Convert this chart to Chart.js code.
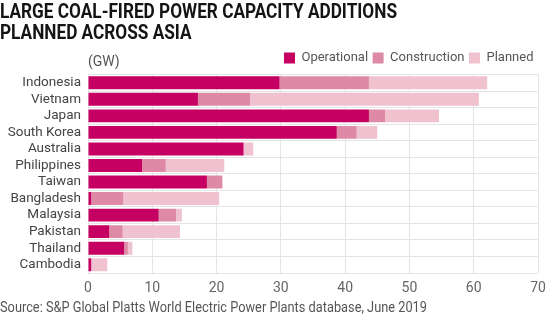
<!DOCTYPE html>
<html>
<head>
<meta charset="utf-8">
<script src="https://cdn.jsdelivr.net/npm/chart.js@4"></script>
<style>
  html, body { margin: 0; padding: 0; background: #fff; }
  #wrap { position: relative; width: 560px; height: 324px; overflow: hidden; font-family: Roboto, sans-serif; }
  #chart { position: absolute; left: 0; top: 0; }
  .title { position: absolute; left: 0; font-weight: 700; font-size: 20px; color: #141414; white-space: nowrap; transform-origin: 0 0; line-height: 1; }
  .note { position: absolute; white-space: nowrap; transform-origin: 0 0; line-height: 1; color: #555; }
</style>
</head>
<body>
<div id="wrap">
  <canvas id="chart" width="560" height="324"></canvas>
  <div class="title" id="t1" style="top:1px">LARGE COAL-FIRED POWER CAPACITY ADDITIONS</div>
  <div class="title" id="t2" style="top:22px">PLANNED ACROSS ASIA</div>
  <div class="note" id="unit" style="left:88px; top:54px; font-size:14px;">(GW)</div>
  <div class="note" id="src" style="left:0; top:300px; font-size:14px;">Source: S&amp;P Global Platts World Electric Power Plants database, June 2019</div>
</div>
<script>
// Capacity in GW by project status
const countries = ['Indonesia', 'Vietnam', 'Japan', 'South Korea', 'Australia', 'Philippines',
  'Taiwan', 'Bangladesh', 'Malaysia', 'Pakistan', 'Thailand', 'Cambodia'];
const operational  = [29.8, 17.1, 43.7, 38.7, 24.2, 8.4, 18.5, 0.5, 11.0, 3.3, 5.6, 0.5];
const construction = [13.9, 8.1, 2.5, 3.1, 0, 3.7, 2.4, 5.0, 2.7, 2.1, 0.6, 0];
const planned      = [18.4, 35.6, 8.4, 3.2, 1.5, 9.1, 0, 14.9, 0.9, 8.9, 0.7, 2.5];
const xTicks = [0, 10, 20, 30, 40, 50, 60, 70];

const COLORS = { op: '#c50062', con: '#de8aa6', plan: '#f0c2d0' };
const GRID = '#e4e4e4';

// squeeze title and source line to their set widths (condensed look)
function fitWidth(el, w) {
  const s = w / el.getBoundingClientRect().width;
  el.style.transform = 'scaleX(' + s + ')';
  return s;
}
const ts = fitWidth(document.getElementById('t1'), 397);
document.getElementById('t2').style.transform = 'scaleX(' + ts + ')';
fitWidth(document.getElementById('src'), 427);

Chart.defaults.font.family = 'Roboto, sans-serif';
Chart.defaults.animation = false;

function ds(label, data, color) {
  return { label, data, backgroundColor: color, borderWidth: 0, barPercentage: 0.78, categoryPercentage: 1 };
}

new Chart(document.getElementById('chart'), {
  type: 'bar',
  data: {
    labels: countries,
    datasets: [
      ds('Operational', operational, COLORS.op),
      ds('Construction', construction, COLORS.con),
      ds('Planned', planned, COLORS.plan),
    ],
  },
  options: {
    indexAxis: 'y',
    responsive: false,
    layout: { padding: { top: 47, right: 22, bottom: 27, left: 0 } },
    plugins: {
      legend: {
        position: 'top',
        align: 'end',
        labels: {
          boxWidth: 11, boxHeight: 11, padding: 4.5,
          color: '#555', font: { size: 13 },
        },
      },
      tooltip: { enabled: false },
    },
    scales: {
      x: {
        stacked: true,
        min: 0, max: 70,
        afterBuildTicks: (s) => { s.ticks = xTicks.map((v) => ({ value: v })); },
        afterFit: (s) => { s.height = 24; },
        grid: { color: GRID, drawTicks: false },
        border: { display: false },
        ticks: { color: '#666', font: { size: 14 }, padding: 7 },
      },
      y: {
        stacked: true,
        afterFit: (s) => { s.width = 88; },
        grid: { color: GRID, drawTicks: false, offset: true },
        border: { color: GRID },
        ticks: { color: '#444', font: { size: 13.5 }, padding: 7, autoSkip: false },
      },
    },
  },
});
</script>
</body>
</html>
